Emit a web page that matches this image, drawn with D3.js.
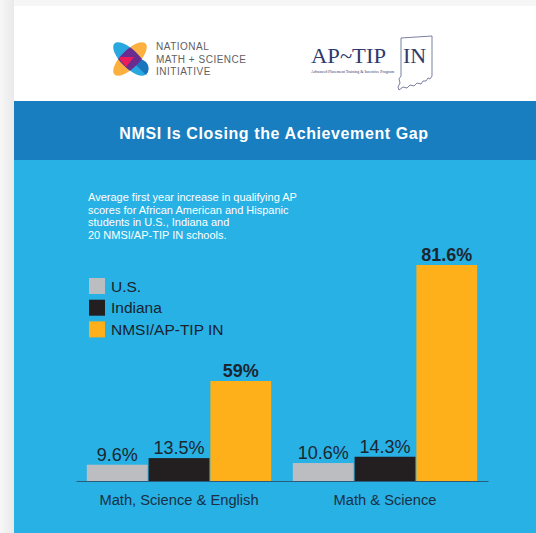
<!DOCTYPE html>
<html>
<head>
<meta charset="utf-8">
<script src="https://cdn.jsdelivr.net/npm/d3@7"></script>
<style>
  html, body { margin: 0; padding: 0; background: #f3f3f3; }
  svg { display: block; font-family: "Liberation Sans", Arial, sans-serif; }
</style>
</head>
<body>
<svg id="chart" width="536" height="533"></svg>
<script>
// chart data
const categories = ["Math, Science & English", "Math & Science"];
const series = ["U.S.", "Indiana", "NMSI/AP-TIP IN"];
const usValues = [9.6, 10.6];
const indianaValues = [13.5, 14.3];
const nmsiValues = [59, 81.6];
const seriesColors = ["#bcbdc0", "#231f20", "#fdb01a"];
const title = "NMSI Is Closing the Achievement Gap";
const subtitleLines = [
  "Average first year increase in qualifying AP",
  "scores for African American and Hispanic",
  "students in U.S., Indiana and",
  "20 NMSI/AP-TIP IN schools."
];
const nmsiLogoLines = ["NATIONAL", "MATH + SCIENCE", "INITIATIVE"];

const W = 536, H = 533;
const svg = d3.select("#chart");

// page frame: grey margin, white header, two blues
const defs = svg.append("defs");
const lg = defs.append("linearGradient").attr("id", "edge").attr("x1", 0).attr("x2", 1);
lg.append("stop").attr("offset", 0).attr("stop-color", "#f7f7f7");
lg.append("stop").attr("offset", 1).attr("stop-color", "#e9e9e9");
svg.append("rect").attr("width", W).attr("height", H).attr("fill", "#f6f6f6");
svg.append("rect").attr("x", 0).attr("y", 0).attr("width", 14).attr("height", H).attr("fill", "url(#edge)");
svg.append("rect").attr("x", 14).attr("y", 6).attr("width", W - 14).attr("height", 95).attr("fill", "#ffffff");
svg.append("rect").attr("x", 14).attr("y", 101).attr("width", W - 14).attr("height", 59).attr("fill", "#187ebf");
svg.append("rect").attr("x", 14).attr("y", 160).attr("width", W - 14).attr("height", H - 160).attr("fill", "#27b1e5");

// NMSI logo
const logo = svg.append("g").attr("transform", "translate(130,59)");
defs.append("clipPath").attr("id", "orangeClip")
  .append("ellipse").attr("rx", 22).attr("ry", 9).attr("transform", "rotate(-45)");
logo.append("ellipse").attr("rx", 22).attr("ry", 9).attr("transform", "rotate(-45)").attr("fill", "#fbb040");
logo.append("ellipse").attr("rx", 22).attr("ry", 9).attr("transform", "rotate(45)").attr("fill", "#29a8e0");
logo.append("path").attr("d", "M0,0 L16,16 A 6 6 0 0 0 3,3 Z").attr("fill", "#1b75bc");
const mid = logo.append("g").attr("clip-path", "url(#orangeClip)");
mid.append("ellipse").attr("rx", 22).attr("ry", 9).attr("transform", "rotate(45)").attr("fill", "#6a2c8f");
mid.append("path").attr("d", "M-12,-2 L4,-2 L-4,8 Z").attr("fill", "#ec1c5b");

svg.append("g").selectAll("text").data(nmsiLogoLines).join("text")
  .attr("x", 156)
  .attr("y", (d, i) => 50 + i * 12.5)
  .attr("fill", "#5f6062")
  .attr("font-size", 10)
  .attr("letter-spacing", 0.5)
  .text(d => d);

// AP-TIP IN logo
const ap = svg.append("g");
ap.append("path")
  .attr("transform", "translate(398,36)")
  .attr("d", "M3,2 L34,0 L34,40 L32,43 L30,42 L28,45 L25,45 L23,48 L19,47 L16,50 L12,49 L9,52 L5,51 L1,54 L0,51 L2,47 L1,43 L3,40 Z")
  .attr("fill", "none").attr("stroke", "#6b7396").attr("stroke-width", 0.9);
ap.append("text").attr("x", 311).attr("y", 63)
  .attr("font-family", "'Liberation Serif', 'Times New Roman', serif")
  .attr("font-size", 22).attr("fill", "#2f3a6d")
  .attr("textLength", 75).attr("lengthAdjust", "spacingAndGlyphs")
  .text("AP~TIP");
ap.append("text").attr("x", 403).attr("y", 63)
  .attr("font-family", "'Liberation Serif', 'Times New Roman', serif")
  .attr("font-size", 22).attr("fill", "#2f3a6d")
  .text("IN");
ap.append("text").attr("x", 311).attr("y", 73)
  .attr("font-family", "'Liberation Serif', 'Times New Roman', serif")
  .attr("font-size", 3.8).attr("fill", "#2f3a6d")
  .attr("textLength", 83).attr("lengthAdjust", "spacingAndGlyphs")
  .text("Advanced Placement Training & Incentive Program");

// title
svg.append("text")
  .attr("x", 274).attr("y", 139)
  .attr("text-anchor", "middle")
  .attr("fill", "#ffffff")
  .attr("font-weight", "bold")
  .attr("font-size", 16)
  .attr("letter-spacing", 0.6)
  .text(title);

// subtitle
svg.append("g").selectAll("text").data(subtitleLines).join("text")
  .attr("x", 88)
  .attr("y", (d, i) => 200.7 + i * 12.85)
  .attr("fill", "#ffffff")
  .attr("font-size", 11)
  .text(d => d);

// legend
const legend = svg.append("g").attr("transform", "translate(89,278)")
  .selectAll("g").data(series).join("g")
  .attr("transform", (d, i) => `translate(0,${i * 21.7})`);
legend.append("rect").attr("width", 16).attr("height", 16)
  .attr("fill", (d, i) => seriesColors[i]);
legend.append("text").attr("x", 22).attr("y", 13.5)
  .attr("fill", "#1a232e").attr("font-size", 15.5)
  .text(d => d);

// bars
const rows = categories.map((c, i) => ({
  category: c,
  values: [usValues[i], indianaValues[i], nmsiValues[i]]
}));

const x0 = d3.scaleBand().domain(categories).range([76, 488])
  .paddingInner(0.1).paddingOuter(0.05);
const x1 = d3.scaleBand().domain(series).range([0, x0.bandwidth()]);
// the source artwork is not drawn to one linear scale
const y = d3.scaleLinear().domain([0, 59, 81.6]).range([481, 381, 265]);

const groups = svg.append("g").selectAll("g").data(rows).join("g")
  .attr("transform", d => `translate(${x0(d.category)},0)`);

const bars = groups.selectAll("g").data(d => d.values.map((v, i) => ({ key: series[i], i, v })))
  .join("g");
bars.append("rect")
  .attr("x", d => x1(d.key) + 0.5)
  .attr("width", x1.bandwidth() - 1)
  .attr("y", d => y(d.v))
  .attr("height", d => y(0) - y(d.v))
  .attr("fill", d => seriesColors[d.i]);
bars.append("text")
  .attr("x", d => x1(d.key) + x1.bandwidth() / 2)
  .attr("y", d => y(d.v) - 4)
  .attr("text-anchor", "middle")
  .attr("fill", "#1c2630")
  .attr("font-size", 18)
  .attr("font-weight", d => (d.i === 2 ? "bold" : "normal"))
  .text(d => d.v + "%");

// baseline axis
const axis = svg.append("g").attr("transform", `translate(0,${y(0)})`)
  .call(d3.axisBottom(x0).tickSize(0).tickPadding(14));
axis.select(".domain").attr("stroke", "#2a5d7c").attr("stroke-width", 1.2);
axis.selectAll("text")
  .attr("font-family", "'Liberation Sans', Arial, sans-serif")
  .attr("font-size", 14.7)
  .attr("fill", "#1a3044");
</script>
</body>
</html>
